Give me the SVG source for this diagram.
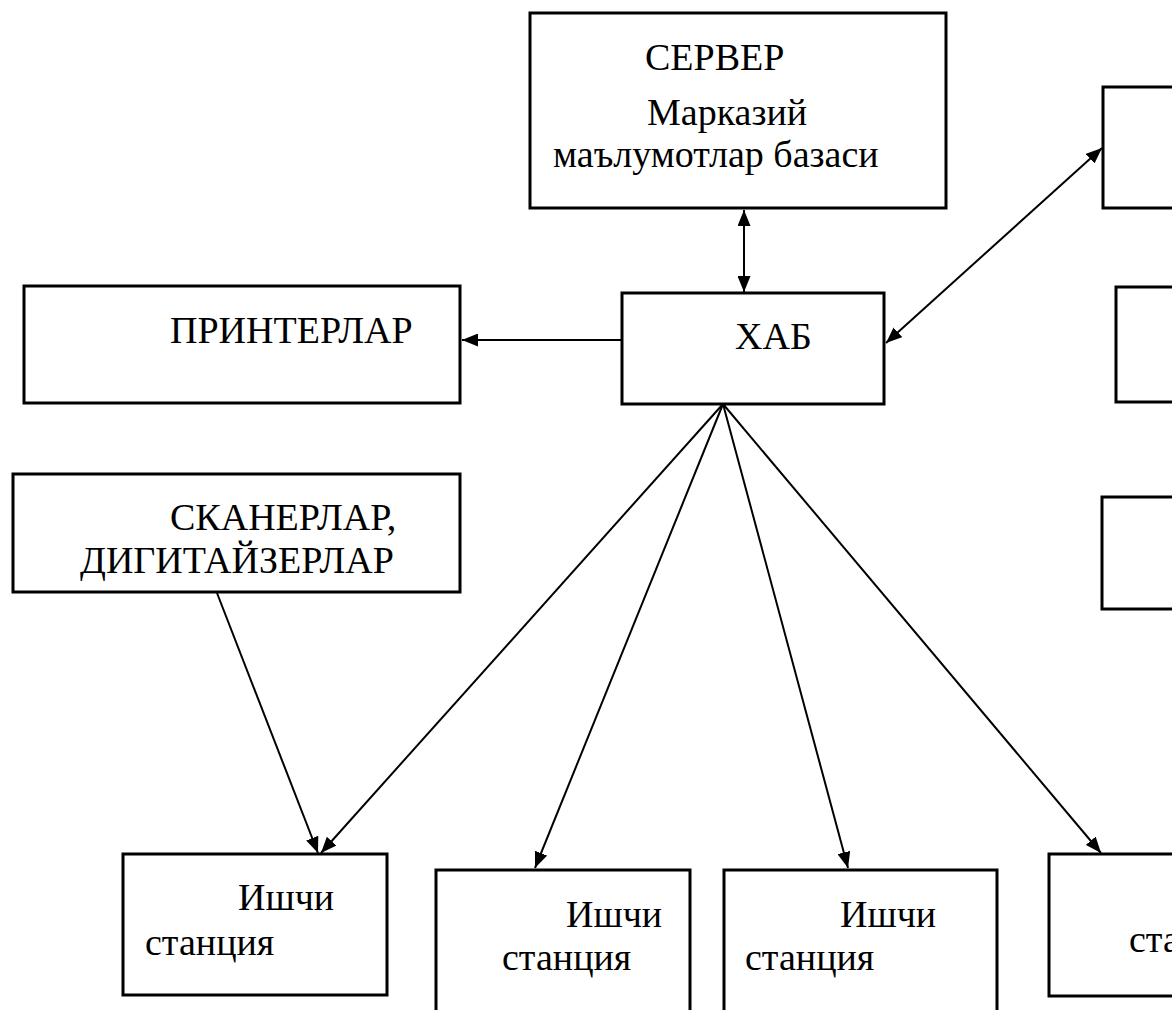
<svg xmlns="http://www.w3.org/2000/svg" width="1172" height="1010" viewBox="0 0 1172 1010">
<style>
.box{fill:#fff;stroke:#000;stroke-width:3}
.t{font-family:"Liberation Serif","Times New Roman",serif;font-size:38px;fill:#000}
.c{stroke:#000;stroke-width:2;fill:none}
</style>
<defs>
<marker id="ah" markerUnits="userSpaceOnUse" markerWidth="17" markerHeight="13" refX="16" refY="6.5" orient="auto-start-reverse">
<path d="M0,0 L16,6.5 L0,13 z" fill="#000"/>
</marker>
</defs>
<rect width="1172" height="1010" fill="#fff"/>
<g id="connectors">
<line class="c" x1="744" y1="210" x2="744" y2="292" marker-start="url(#ah)" marker-end="url(#ah)"/>
<line class="c" x1="886" y1="343" x2="1102" y2="148" marker-start="url(#ah)" marker-end="url(#ah)"/>
<line class="c" x1="622" y1="340" x2="462" y2="340" marker-end="url(#ah)"/>
<line class="c" x1="723" y1="404" x2="321" y2="853" marker-end="url(#ah)"/>
<line class="c" x1="723" y1="404" x2="535" y2="868" marker-end="url(#ah)"/>
<line class="c" x1="723" y1="404" x2="848" y2="868" marker-end="url(#ah)"/>
<line class="c" x1="723" y1="404" x2="1101" y2="853" marker-end="url(#ah)"/>
<line class="c" x1="217" y1="593" x2="318" y2="853" marker-end="url(#ah)"/>
</g>
<g id="server">
<rect class="box" x="530" y="13" width="416" height="195"/>
<text class="t" x="645" y="70">СЕРВЕР</text>
<text class="t" x="647" y="125">Марказий</text>
<text class="t" x="553" y="167">маълумотлар базаси</text>
</g>
<g id="hub">
<rect class="box" x="622" y="293" width="262" height="111"/>
<text class="t" x="735" y="349">ХАБ</text>
</g>
<g id="printers">
<rect class="box" x="24" y="286" width="436" height="117"/>
<text class="t" x="170" y="343">ПРИНТЕРЛАР</text>
</g>
<g id="scanners">
<rect class="box" x="13" y="474" width="447" height="118"/>
<text class="t" x="170" y="530">СКАНЕРЛАР,</text>
<text class="t" x="80" y="573">ДИГИТАЙЗЕРЛАР</text>
</g>
<g id="right1"><rect class="box" x="1103" y="87" width="120" height="121"/></g>
<g id="right2"><rect class="box" x="1116" y="287" width="120" height="115"/></g>
<g id="right3"><rect class="box" x="1102" y="497" width="120" height="112"/></g>
<g id="ws1">
<rect class="box" x="123" y="854" width="264" height="141"/>
<text class="t" x="238" y="910">Ишчи</text>
<text class="t" x="145" y="955">станция</text>
</g>
<g id="ws2">
<rect class="box" x="436" y="870" width="254" height="160"/>
<text class="t" x="566" y="927">Ишчи</text>
<text class="t" x="502" y="970">станция</text>
</g>
<g id="ws3">
<rect class="box" x="724" y="870" width="273" height="160"/>
<text class="t" x="840" y="927">Ишчи</text>
<text class="t" x="745" y="970">станция</text>
</g>
<g id="ws4">
<rect class="box" x="1049" y="854" width="160" height="142"/>
<text class="t" x="1129" y="952">станция</text>
</g>
</svg>
